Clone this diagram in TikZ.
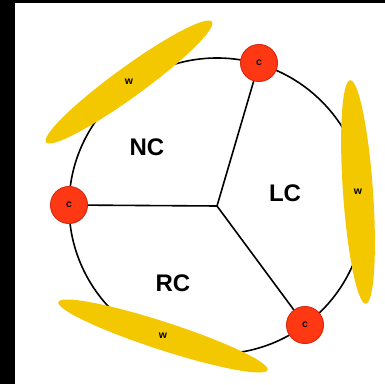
\documentclass[tikz,border=0pt]{standalone}
\usepackage{fontspec}
\setmainfont{Liberation Sans}
\usetikzlibrary{shapes.geometric}
\definecolor{nodered}{HTML}{FF3814}
\definecolor{nodeedge}{HTML}{D82A10}
\definecolor{wireyel}{HTML}{F4C800}
\tikzset{
  rim/.style     = {circle, draw, line width=1.6pt, minimum size=296pt, inner sep=0},
  spoke/.style   = {line width=1.6pt},
  cnode/.style   = {circle, draw=nodeedge, line width=1pt, fill=nodered, minimum size=37pt, inner sep=0, font=\bfseries\fontsize{10.5}{10.5}\selectfont},
  wire/.style    = {ellipse, fill=wireyel, minimum height=30pt, inner sep=0},
  wlab/.style    = {font=\bfseries\fontsize{10.5}{10.5}\selectfont},
  region/.style  = {font=\bfseries\fontsize{24}{24}\selectfont}
}

\begin{document}
\begin{tikzpicture}[x=1pt, y=1pt]

  \useasboundingbox (0,0) rectangle (385,384);
  \fill[black] (0,0) rectangle (385,384);
  \fill[white] (15,0) rectangle (385,381);

  % ---------- ring and spokes ----------
  \coordinate (hub) at (217,178);
  \node[rim] (ring) at (hub) {};

  % ---------- w (ellipses) ----------
  \node[wire, minimum width=205pt, rotate=36]  (wNC) at (129,302) {}; \node[wlab] at (wNC.center) {w};
  \node[wire, minimum width=224pt, rotate=94]  (wLC) at (358,192) {}; \node[wlab] at (wLC.center) {w};
  \node[wire, minimum width=220pt, minimum height=28pt, rotate=-18] (wRC) at (163,48) {}; \node[wlab] at (wRC.center) {w};

  % ---------- c (junctions) ----------
  \node[cnode] (cL) at (69,179)  {c};
  \node[cnode] (cT) at (259,321) {c};
  \node[cnode] (cB) at (305,59)  {c};

  \draw[spoke] (hub) -- (cL);
  \draw[spoke] (hub) -- (cT);
  \draw[spoke] (hub) -- (cB);

  % ---------- regions ----------
  \node[region] (NC) at (147,237) {NC};
  \node[region] (LC) at (285,191) {LC};
  \node[region] (RC) at (173,101) {RC};

\end{tikzpicture}
\end{document}
